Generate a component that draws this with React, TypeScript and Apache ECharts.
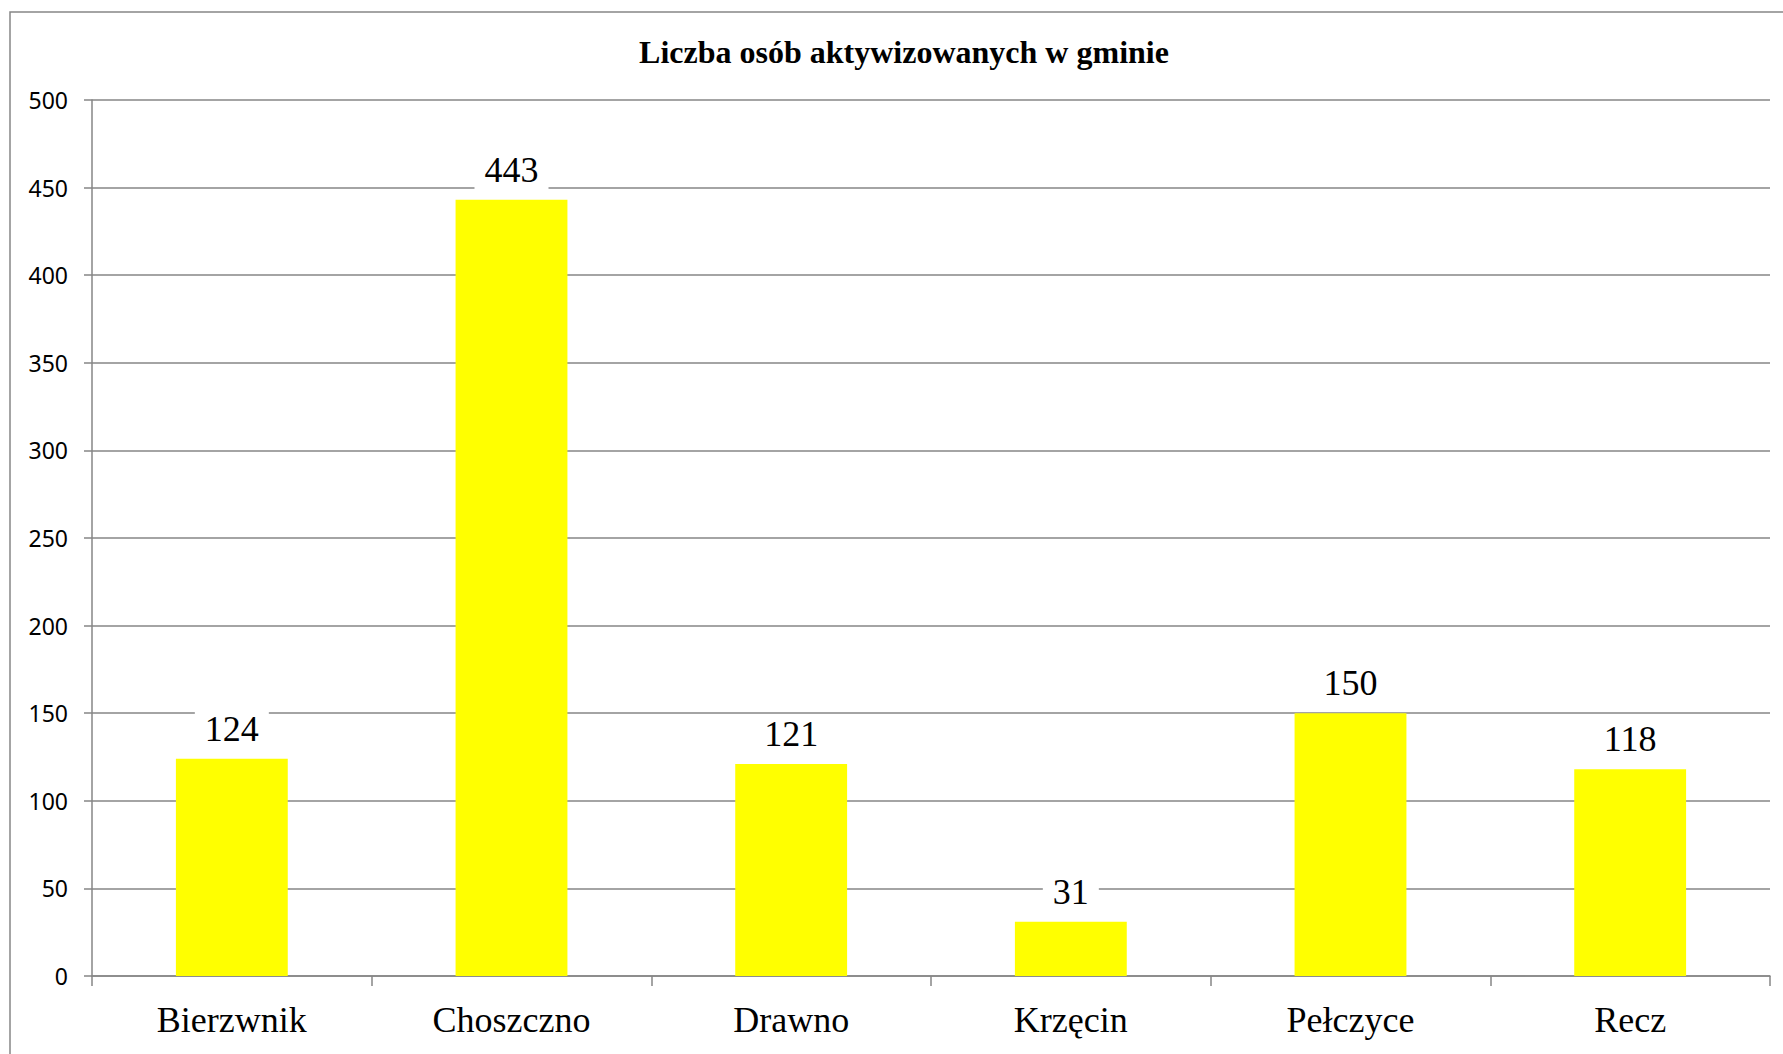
import React, { useEffect, useRef } from "react";
import * as echarts from "echarts";

const categories = ["Bierzwnik", "Choszczno", "Drawno", "Krzęcin", "Pełczyce", "Recz"];
const values = [124, 443, 121, 31, 150, 118];
const titleText = "Liczba osób aktywizowanych w gminie";
const yMin = 0;
const yMax = 500;
const yInterval = 50;

const GRAY = "#868686";

export default function App() {
  const ref = useRef<HTMLDivElement>(null);
  useEffect(() => {
    if (!ref.current) return;
    const chart = echarts.init(ref.current, null, { renderer: "svg" });
    chart.setOption({
      animation: false,
      backgroundColor: "#ffffff",
      title: {
        text: titleText,
        left: 899,
        textAlign: "center",
        top: 31,
        textStyle: {
          fontFamily: "Liberation Serif",
          fontWeight: "bold",
          fontSize: 32,
          color: "#000",
        },
      },
      graphic: [
        {
          type: "rect",
          shape: { x: 10, y: 12, width: 1800, height: 1100 },
          style: { fill: "none", stroke: GRAY, lineWidth: 1.5 },
          silent: true,
        },
      ],
      grid: { left: 92, right: 13, top: 100, bottom: 78, containLabel: false },
      xAxis: {
        type: "category",
        data: categories,
        axisLine: { show: true, lineStyle: { color: GRAY, width: 1.5 } },
        axisTick: { show: true, length: 10, interval: 0, lineStyle: { color: GRAY, width: 1.5 } },
        axisLabel: {
          interval: 0,
          margin: 26,
          fontFamily: "Liberation Serif",
          fontSize: 36,
          color: "#000",
        },
      },
      yAxis: {
        type: "value",
        min: yMin,
        max: yMax,
        interval: yInterval,
        axisLine: { show: true, lineStyle: { color: GRAY, width: 1.5 } },
        axisTick: { show: true, length: 8, lineStyle: { color: GRAY, width: 1.5 } },
        splitLine: { show: true, lineStyle: { color: GRAY, width: 1.5 } },
        axisLabel: {
          margin: 24,
          fontFamily: "Noto Sans",
          fontSize: 23,
          color: "#000",
        },
      },
      series: [
        {
          type: "bar",
          data: values,
          barWidth: "40%",
          itemStyle: { color: "#FFFF00" },
          label: {
            show: true,
            position: "top",
            distance: 10,
            fontFamily: "Liberation Serif",
            fontSize: 36,
            color: "#000",
            backgroundColor: "#ffffff",
            padding: [2, 10],
          },
        },
      ],
    });
    return () => chart.dispose();
  }, []);
  return (
    <div
      ref={ref}
      style={{ position: "absolute", left: 0, top: 0, width: 1783, height: 1054 }}
    />
  );
}
